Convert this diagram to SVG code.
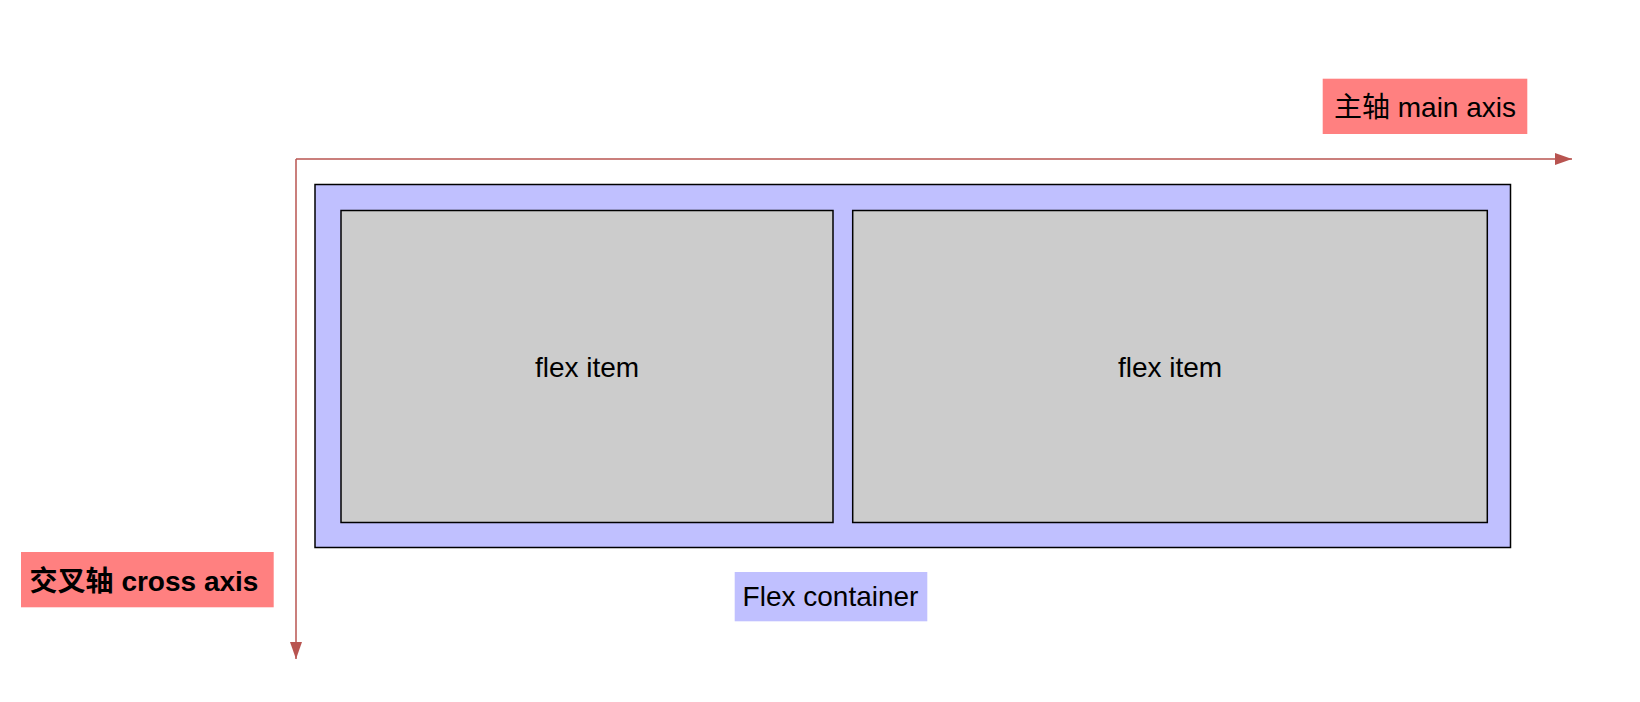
<svg xmlns="http://www.w3.org/2000/svg" width="1640" height="702" viewBox="0 0 1640 702">
<style>
text{font-family:"Liberation Sans","Noto Sans CJK SC",Arial,sans-serif;font-size:28px;fill:#000;text-anchor:middle}
.bold{font-weight:bold}
.label-red{fill:#ff8080}
.label-blue{fill:#c0c0ff}
.container{fill:#c0c0ff;stroke:#000;stroke-width:1.5}
.item{fill:#cccccc;stroke:#000;stroke-width:1.5}
.axis{fill:none;stroke:#b85450;stroke-width:1.5}
</style>
<defs>
<marker id="arrow" viewBox="0 0 17 12" refX="17" refY="6" markerWidth="17" markerHeight="12" markerUnits="userSpaceOnUse" orient="auto" preserveAspectRatio="none">
<path d="M0,0 L17,6 L0,12 Z" fill="#b85450"/>
</marker>
</defs>
<rect width="1640" height="702" fill="#fff"/>
<g id="container">
<rect class="container" x="315" y="184.5" width="1195.5" height="363"/>
</g>
<g id="item1">
<rect class="item" x="341" y="210.5" width="492" height="312"/>
<text x="587" y="377">flex item</text>
</g>
<g id="item2">
<rect class="item" x="852.7" y="210.5" width="634.6" height="312"/>
<text x="1170" y="377">flex item</text>
</g>
<g id="connectors">
<path class="axis" d="M296,159 L296,659" marker-end="url(#arrow)"/>
<path class="axis" d="M296,159 L1572,159" marker-end="url(#arrow)"/>
</g>
<g id="main-axis-label">
<rect class="label-red" x="1322.7" y="78.7" width="204.6" height="55.3"/>
<text x="1425" y="116.5">主轴 main axis</text>
</g>
<g id="cross-axis-label">
<rect class="label-red" x="21" y="552" width="252.7" height="55.3"/>
<text class="bold" x="144" y="590.5">交叉轴 cross axis</text>
</g>
<g id="flex-container-label">
<rect class="label-blue" x="734.7" y="572" width="192.6" height="49.3"/>
<text x="830.5" y="606">Flex container</text>
</g>
</svg>
